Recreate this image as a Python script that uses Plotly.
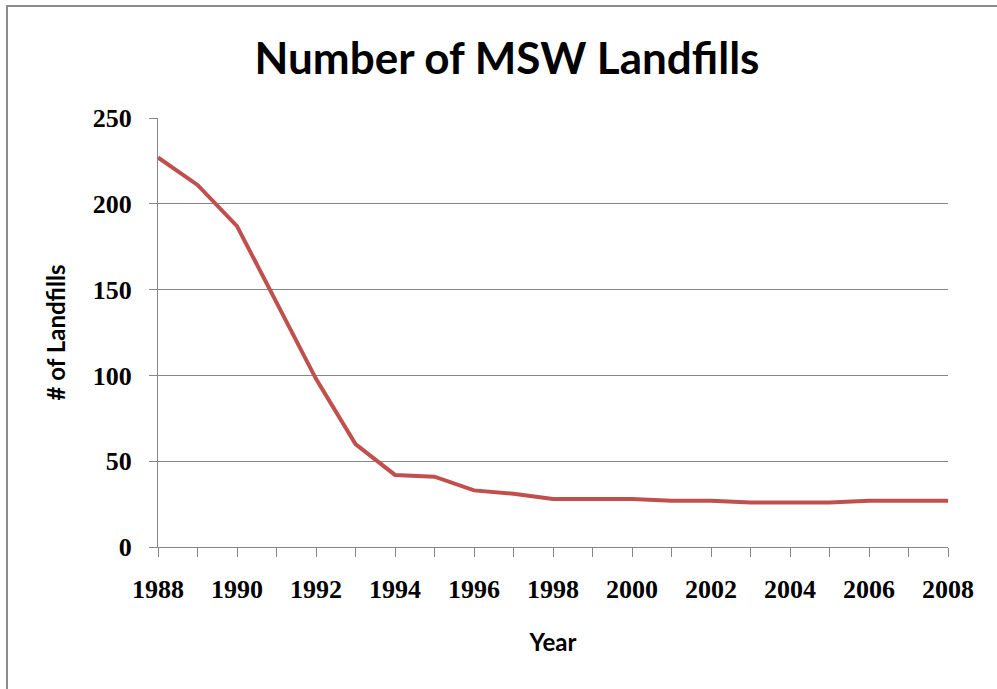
import plotly.graph_objects as go

years = list(range(1988, 2009))
landfills = [227, 211, 187, 143, 98, 60, 42, 41, 33, 31, 28, 28, 28, 27, 27, 26, 26, 26, 27, 27, 27]
x_tick_vals = list(range(1988, 2009, 2))
y_tick_vals = [0, 50, 100, 150, 200, 250]

W, H = 997, 689
L, R, T, B = 158, 49, 118, 142
pw, ph = W - L - R, H - T - B

def px_x(p):
    return (p - L) / pw

def px_y(p):
    return (H - B - p) / ph

SANS = "Lato"
SERIF = "Liberation Serif"

fig = go.Figure()
fig.add_trace(go.Scatter(x=years, y=landfills, mode="lines",
                         line=dict(color="#c0504d", width=4), hoverinfo="x+y"))

fig.update_layout(
    width=W, height=H,
    margin=dict(l=L, r=R, t=T, b=B),
    paper_bgcolor="white", plot_bgcolor="white",
    showlegend=False,
    font=dict(family=SANS, color="black"),
    title=dict(text="<b>Number of MSW Landfills</b>", x=507 / W, xanchor="center",
               y=1 - 59 / H, yanchor="middle", font=dict(size=44, family=SANS, color="black")),
    xaxis=dict(range=[1988, 2008], tickmode="array", tickvals=x_tick_vals,
               ticktext=[f"<b>{v}</b>" for v in x_tick_vals],
               tickfont=dict(size=26, family=SERIF), showgrid=False,
               showline=True, linecolor="#868686", linewidth=1,
               ticks="outside", ticklen=9, tickcolor="#868686",
               ticklabelstandoff=10,
               minor=dict(ticks="outside", ticklen=9, tickcolor="#868686", dtick=1, tick0=1988),
               title=dict(text="<b>Year</b>", font=dict(size=24, family=SANS), standoff=30),
               zeroline=False),
    yaxis=dict(range=[0, 250], tickmode="array", tickvals=y_tick_vals,
               ticktext=[f"<b>{v}</b>" for v in y_tick_vals],
               tickfont=dict(size=26, family=SERIF), showgrid=True, gridcolor="#868686", gridwidth=1,
               showline=True, linecolor="#868686", linewidth=1,
               ticks="outside", ticklen=8, tickcolor="#868686",
               ticklabelstandoff=12,
               title=dict(text="<b># of Landfills</b>", font=dict(size=24, family=SANS), standoff=20),
               zeroline=False),
    shapes=[dict(type="rect", xref="paper", yref="paper",
                 x0=px_x(7), x1=px_x(1010), y0=px_y(700), y1=px_y(6),
                 line=dict(color="#8c8c8c", width=2), fillcolor="rgba(0,0,0,0)", layer="below")],
)

fig.write_html("out.html", config={"displayModeBar": False},
               post_script="document.body.style.margin='0';")
